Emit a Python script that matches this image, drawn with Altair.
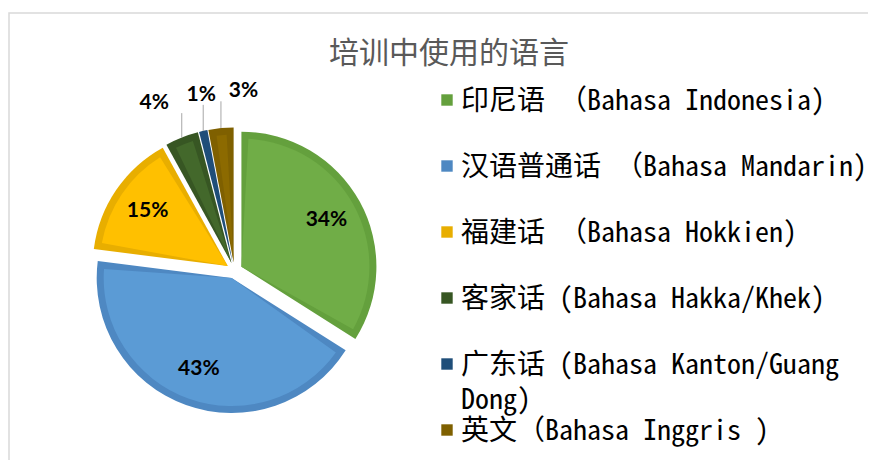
import altair as alt
import pandas as pd

# ---- data ----
categories = [
    "印尼语 （Bahasa Indonesia)",
    "汉语普通话 （Bahasa Mandarin)",
    "福建话 （Bahasa Hokkien)",
    "客家话 (Bahasa Hakka/Khek)",
    "广东话 (Bahasa Kanton/Guang\nDong)",
    "英文（Bahasa Inggris )",
]
shares = [34, 43, 15, 4, 1, 3]
title_text = "培训中使用的语言"

# ---- styles ----
fill_colors = ["#70AD47", "#5B9BD5", "#FFC000", "#43682B", "#255E91", "#8C6A00"]
border_colors = ["#64A03D", "#4E88C2", "#E8AE00", "#375623", "#1F4E79", "#7F6000"]

df = pd.DataFrame({"cat": categories, "value": shares, "order": list(range(len(categories)))})

CX, CY = 225.4, 257.5   # pie centre inside the view
R, D, BW = 135, 8, 7     # radius, explode distance, border width

base = (
    alt.Chart(df)
    .transform_joinaggregate(total="sum(value)")
    .transform_window(cum="sum(value)", sort=[alt.SortField("order")], frame=[None, 0])
    .transform_calculate(frac="datum.value / datum.total")
    .transform_calculate(a0="(datum.cum - datum.value) / datum.total * 2 * PI")
    .transform_calculate(a1="datum.cum / datum.total * 2 * PI")
    .transform_calculate(am="(datum.a0 + datum.a1) / 2")
    .transform_calculate(px=f"{CX} + {D} * sin(datum.am)")
    .transform_calculate(py=f"{CY} - {D} * cos(datum.am)")
)

theta = alt.Theta("a0:Q", scale=None)
theta2 = alt.Theta2("a1:Q")
xpos = alt.X("px:Q", scale=None)
ypos = alt.Y("py:Q", scale=None)

outer = base.mark_arc(outerRadius=R).encode(
    theta=theta, theta2=theta2, x=xpos, y=ypos,
    color=alt.Color("cat:N", scale=alt.Scale(domain=categories, range=border_colors), legend=None),
)
inner = base.mark_arc(outerRadius=R - BW, padAngle=2 * BW / (R - BW)).encode(
    theta=theta, theta2=theta2, x=xpos, y=ypos,
    fill=alt.Fill("cat:N", scale=alt.Scale(domain=categories, range=fill_colors), legend=None),
)

label_font = dict(font="Lato", fontWeight="bold", fontSize=21, color="#000000")

inside = (
    base.transform_filter("datum.value >= 5")
    .transform_calculate(lx=f"{CX} + 105 * sin(datum.am)")
    .transform_calculate(ly=f"{CY} - 105 * cos(datum.am)")
    .mark_text(align="center", baseline="middle", **label_font)
    .encode(x=alt.X("lx:Q", scale=None), y=alt.Y("ly:Q", scale=None),
            text=alt.Text("frac:Q", format=".0%"))
)

small = (
    base.transform_filter("datum.value < 5")
    .transform_window(j="row_number()", sort=[alt.SortField("order")])
    .transform_calculate(ox=f"{CX} + 180 * sin(datum.am) + (datum.j - 2) * 20 + 6")
    .transform_calculate(oy=f"{CY} - 180 * cos(datum.am)")
    .transform_calculate(ex=f"{CX} + {D + R} * sin(datum.am)")
    .transform_calculate(ey=f"{CY} - {D + R} * cos(datum.am)")
    .transform_calculate(ey2="datum.oy + 10")
)
outside = small.mark_text(align="center", baseline="middle", **label_font).encode(
    x=alt.X("ox:Q", scale=None), y=alt.Y("oy:Q", scale=None),
    text=alt.Text("frac:Q", format=".0%"),
)
leaders = small.mark_rule(color="#A6A6A6", strokeWidth=1).encode(
    x=alt.X("ex:Q", scale=None), y=alt.Y("ey:Q", scale=None), y2=alt.Y2("ey2:Q"),
)

LX, LY0, STEP = 438, 87, 66
leg = alt.Chart(df).transform_calculate(ly=f"{LY0} + datum.order * {STEP}")
leg_marks = leg.mark_square(size=130, opacity=1).encode(
    x=alt.X("mx:Q", scale=None), y=alt.Y("ly:Q", scale=None),
    color=alt.Color("cat:N", scale=alt.Scale(domain=categories, range=border_colors), legend=None),
).transform_calculate(mx=f"{LX}")
leg_text = (
    leg.transform_calculate(tx=f"{LX + 14}")
    .transform_calculate(ty="datum.ly + 10")
    .mark_text(align="left", baseline="alphabetic",
               font="'Noto Sans Mono CJK SC', 'Liberation Mono', monospace",
               fontSize=28, lineBreak="\n", lineHeight=35, color="#000000")
    .encode(x=alt.X("tx:Q", scale=None), y=alt.Y("ty:Q", scale=None), text="cat:N")
)

chart = (
    alt.layer(outer, inner, leaders, inside, outside, leg_marks, leg_text)
    .properties(
        width=880,
        height=480,
        autosize=alt.AutoSizeParams(type="none"),
        padding={"left": 1, "top": 5, "right": -21, "bottom": -33},
        title=alt.TitleParams(
            text=title_text, anchor="middle", frame="group", orient="top",
            font="Noto Sans CJK SC", fontSize=30, fontWeight="normal",
            color="#595959", baseline="alphabetic", offset=-50, dy=30,
        ),
        background="white",
    )
    .configure_view(stroke="#D9D9D9", strokeWidth=1.5)
)

chart.save("out.html", embed_options={"renderer": "svg", "actions": False})
